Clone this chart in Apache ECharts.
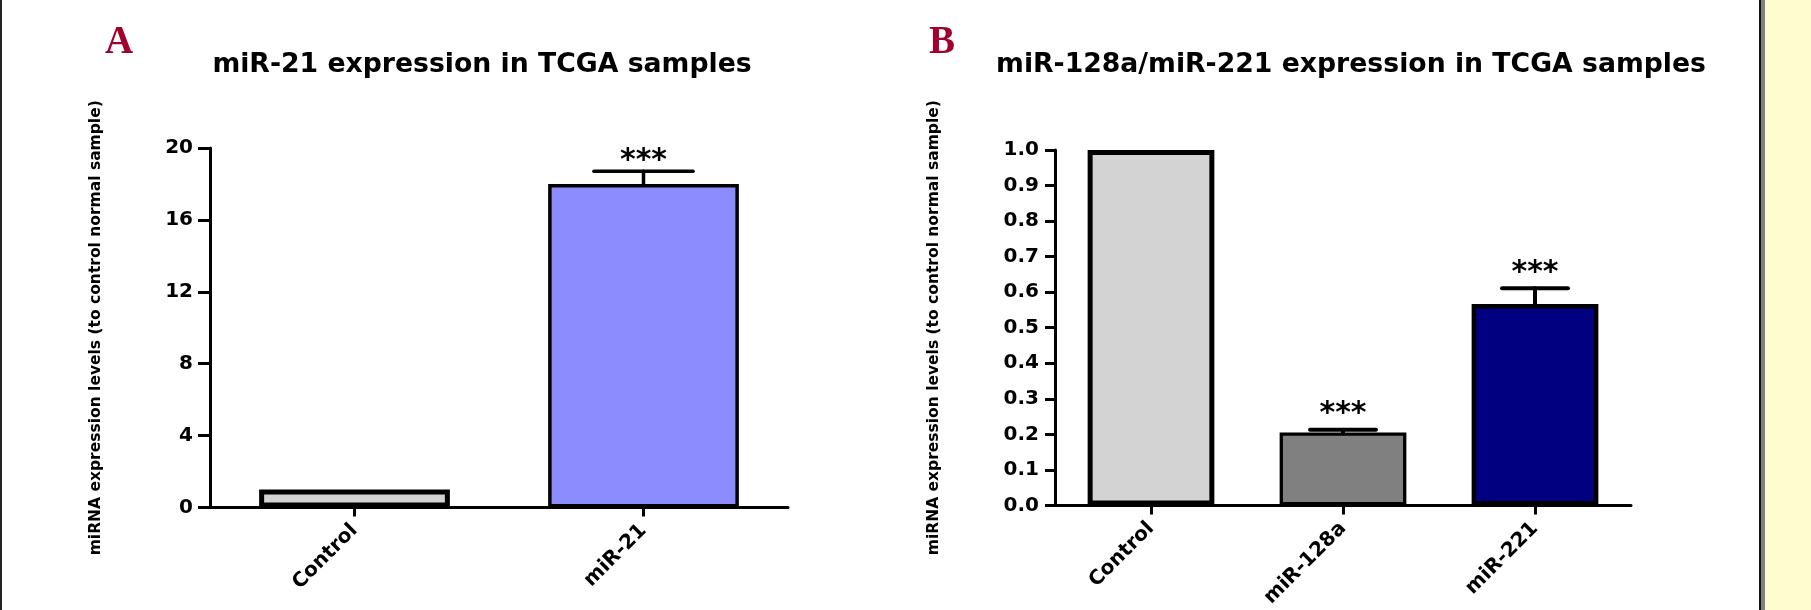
<!DOCTYPE html>
<html>
<head>
<meta charset="utf-8">
<script src="https://cdn.jsdelivr.net/npm/echarts@6/dist/echarts.min.js"></script>
<style>
html,body{margin:0;padding:0;background:#fff;}
#c{width:1811px;height:610px;}
</style>
</head>
<body>
<div id="c"></div>
<script>
// ---- Data ----
const categoriesA = ['Control', 'miR-21'];
const valuesA = [1, 18.0];
const errorsA = [0, 0.7];
const significanceA = ['', '***'];
const yTicksA = [0, 4, 8, 12, 16, 20];

const categoriesB = ['Control', 'miR-128a', 'miR-221'];
const valuesB = [1, 0.205, 0.567];
const errorsB = [0, 0.008, 0.044];
const significanceB = ['', '***', '***'];
const yTicksB = [0.0, 0.1, 0.2, 0.3, 0.4, 0.5, 0.6, 0.7, 0.8, 0.9, 1.0];

const titleA = 'miR-21 expression in TCGA samples';
const titleB = 'miR-128a/miR-221 expression in TCGA samples';
const yName = 'miRNA expression levels (to control normal sample)';

// ---- Styles ----
const colorsA = ['#D3D3D3', '#8C8CFF'];
const bordersA = [5, 3.5];
const colorsB = ['#D3D3D3', '#808080', '#000080'];
const bordersB = [5, 3.3, 4.5];
const FONT = '"DejaVu Sans", sans-serif';
const BAR_FRAC = 0.66;

const chart = echarts.init(document.getElementById('c'), null, {renderer: 'canvas'});

function errRender(sigs, lw, starGap, starSize) {
  return function (params, api) {
    const i = api.value(0), v = api.value(1), e = api.value(2);
    if (!e) return null;
    const top = api.coord([i, v + e]);
    const base = api.coord([i, v]);
    const bw = api.size([1, 0])[0] * BAR_FRAC;
    const hw = bw * 0.52 / 2;
    const st = {stroke: '#000', lineWidth: lw, lineCap: 'round'};
    return {
      type: 'group',
      children: [
        {type: 'line', shape: {x1: base[0], y1: base[1], x2: top[0], y2: top[1]}, style: st},
        {type: 'line', shape: {x1: top[0] - hw, y1: top[1], x2: top[0] + hw, y2: top[1]}, style: st},
        {type: 'text', style: {text: sigs[params.dataIndex], x: top[0], y: top[1] - starGap,
          align: 'center', verticalAlign: 'middle', fontSize: starSize, fontWeight: 'bold', fontFamily: FONT, fill: '#000'}}
      ]
    };
  };
}

function yAxis(gridIndex, ticks, tickLen, margin, gap, fmt) {
  return {
    type: 'value', gridIndex: gridIndex,
    min: ticks[0], max: ticks[ticks.length - 1], interval: ticks[1] - ticks[0],
    name: yName, nameLocation: 'middle', nameGap: gap,
    nameTextStyle: {fontFamily: FONT, fontWeight: 'bold', fontSize: 15.5, color: '#000'},
    axisLine: {show: true, lineStyle: {color: '#000', width: 3}},
    axisTick: {show: true, length: tickLen, lineStyle: {color: '#000', width: 3}},
    axisLabel: {fontFamily: FONT, fontWeight: 'bold', fontSize: 20, color: '#000', margin: margin, formatter: fmt},
    splitLine: {show: false}
  };
}

function xAxis(gridIndex, cats) {
  return {
    type: 'category', gridIndex: gridIndex, data: cats, boundaryGap: true,
    axisLine: {show: true, onZero: false, lineStyle: {color: '#000', width: 3}},
    axisTick: {show: true, alignWithLabel: true, length: 9, lineStyle: {color: '#000', width: 3}},
    axisLabel: {rotate: 45, interval: 0, fontFamily: FONT, fontWeight: 'bold', fontSize: 20, color: '#000', margin: 20}
  };
}

const option = {
  backgroundColor: '#ffffff',
  animation: false,
  title: [
    {text: titleA, left: 477, top: 47, textAlign: 'center',
     textStyle: {fontFamily: FONT, fontWeight: 'bold', fontSize: 26.7, color: '#000'}},
    {text: titleB, left: 1346, top: 47, textAlign: 'center',
     textStyle: {fontFamily: FONT, fontWeight: 'bold', fontSize: 26.7, color: '#000'}},
    {text: 'A', left: 114, top: 18, textAlign: 'center',
     textStyle: {fontFamily: '"Liberation Serif", serif', fontWeight: 'bold', fontSize: 39, color: '#A1002B'}},
    {text: 'B', left: 937, top: 18, textAlign: 'center',
     textStyle: {fontFamily: '"Liberation Serif", serif', fontWeight: 'bold', fontSize: 39, color: '#A1002B'}}
  ],
  graphic: [
    {type: 'rect', shape: {x: 0, y: 0, width: 2, height: 610}, style: {fill: '#222'}, silent: true},
    {type: 'rect', shape: {x: 1765, y: 0, width: 46, height: 610}, style: {fill: '#FFFDD0'}, silent: true},
    {type: 'rect', shape: {x: 1761, y: 0, width: 4, height: 610}, style: {fill: '#808080'}, silent: true},
    {type: 'rect', shape: {x: 1759, y: 0, width: 2, height: 610}, style: {fill: '#111'}, silent: true}
  ],
  grid: [
    {left: 210, top: 148, width: 578, height: 359.5, containLabel: false},
    {left: 1055, top: 150, width: 576, height: 359.5, containLabel: false}
  ],
  xAxis: [xAxis(0, categoriesA), xAxis(1, categoriesB)],
  yAxis: [
    yAxis(0, yTicksA, 12, 17, 106, v => String(v)),
    yAxis(1, yTicksB, 10, 16, 113, v => v.toFixed(1))
  ],
  series: [
    {type: 'bar', xAxisIndex: 0, yAxisIndex: 0, barWidth: (BAR_FRAC * 100) + '%',
     data: valuesA.map((v, i) => ({value: v, itemStyle: {color: colorsA[i], borderColor: '#000', borderWidth: bordersA[i]}}))},
    {type: 'custom', xAxisIndex: 0, yAxisIndex: 0, z: 5,
     renderItem: errRender(significanceA, 3.5, 10, 30),
     encode: {x: 0, y: 1},
     data: valuesA.map((v, i) => [i, v, errorsA[i]])},
    {type: 'bar', xAxisIndex: 1, yAxisIndex: 1, barWidth: (BAR_FRAC * 100) + '%',
     data: valuesB.map((v, i) => ({value: v, itemStyle: {color: colorsB[i], borderColor: '#000', borderWidth: bordersB[i]}}))},
    {type: 'custom', xAxisIndex: 1, yAxisIndex: 1, z: 5,
     renderItem: errRender(significanceB, 4, 15, 30),
     encode: {x: 0, y: 1},
     data: valuesB.map((v, i) => [i, v, errorsB[i]])}
  ]
};
chart.setOption(option);
</script>
</body>
</html>
